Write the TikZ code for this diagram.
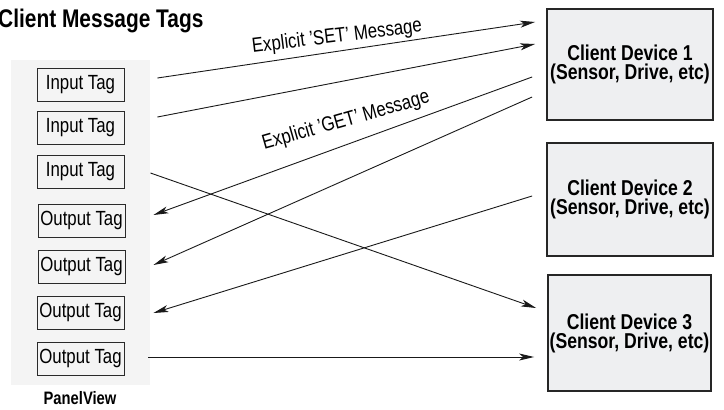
\documentclass[tikz,border=0pt]{standalone}
\usepackage{fontspec}
\setmainfont{Liberation Sans}[FakeStretch=0.82]
\usetikzlibrary{arrows.meta}
\definecolor{panelgray}{HTML}{F4F4F4}
\definecolor{devgray}{HTML}{EEEFF1}
\definecolor{linegray}{HTML}{2A2A2A}
\tikzset{
  tagbox/.style={draw=linegray, line width=0.9pt, fill=panelgray, minimum width=87pt, minimum height=33pt, inner sep=0pt,
    font=\fontsize{20.5}{22}\selectfont},
  devbox/.style={draw=black!85, line width=1.8pt, fill=devgray, inner sep=0pt, align=center,
    font=\bfseries\fontsize{21.5}{19}\selectfont},
  msg/.style={line width=0.9pt, draw=black!90, -{Stealth[length=15pt,width=7pt,inset=4pt]}},
  lbl/.style={font=\fontsize{20.5}{22}\selectfont, inner sep=0pt}
}
\begin{document}
\begin{tikzpicture}[x=1pt,y=-1pt]
\useasboundingbox (0,0) rectangle (724,410);
% title
\node[anchor=base west, inner sep=0pt, font=\bfseries\fontsize{25.5}{27}\selectfont] (title) at (-2,27) {Client Message Tags};
% panel
\fill[panelgray] (11,60) rectangle (150,385);
\node[inner sep=0pt, font=\bfseries\fontsize{18}{19}\selectfont] (pv) at (80,398) {PanelView};
% tags
\node[tagbox] (in1) at (80.5,84.5) {Input Tag};
\node[tagbox] (in2) at (80.5,127.5) {Input Tag};
\node[tagbox] (in3) at (80.5,171.5) {Input Tag};
\node[tagbox] (out1) at (81.5,220.5) {Output Tag};
\node[tagbox] (out2) at (81.5,266.5) {Output Tag};
\node[tagbox] (out3) at (80.5,312.5) {Output Tag};
\node[tagbox] (out4) at (80.5,358.5) {Output Tag};
% devices
\node[devbox, minimum width=166pt, minimum height=111pt] (c1) at (630,64.5) {Client Device 1\\(Sensor, Drive, etc)};
\node[devbox, minimum width=166pt, minimum height=113pt] (c2) at (630,199.5) {Client Device 2\\(Sensor, Drive, etc)};
\node[devbox, minimum width=163pt, minimum height=116pt] (c3) at (629.5,333) {Client Device 3\\(Sensor, Drive, etc)};
% connectors
\draw[msg] ([shift={(33,-6.5)}]in1.east) -- ([shift={(-11,-42.5)}]c1.west);
\draw[msg] ([shift={(33,-10.5)}]in2.east) -- ([shift={(-11,-20.5)}]c1.west);
\draw[msg] ([shift={(-14,12.5)}]c1.west) -- ([shift={(28,-5.5)}]out1.east);
\draw[msg] ([shift={(-14,32.5)}]c1.west) -- ([shift={(28,-1.5)}]out2.east);
\draw[msg] ([shift={(26,1.5)}]in3.east) -- ([shift={(-11,-25)}]c3.west);
\draw[msg] ([shift={(-14,-3.5)}]c2.west) -- ([shift={(29,0.5)}]out3.east);
\draw[msg] ([shift={(24,-1.5)}]out4.east) -- ([shift={(-13,24)}]c3.west);
% labels
\node[lbl, rotate=7] (setl) at (337,37) {Explicit 'SET' Message};
\node[lbl, rotate=16] (getl) at (346,121) {Explicit 'GET' Message};
\end{tikzpicture}
\end{document}
